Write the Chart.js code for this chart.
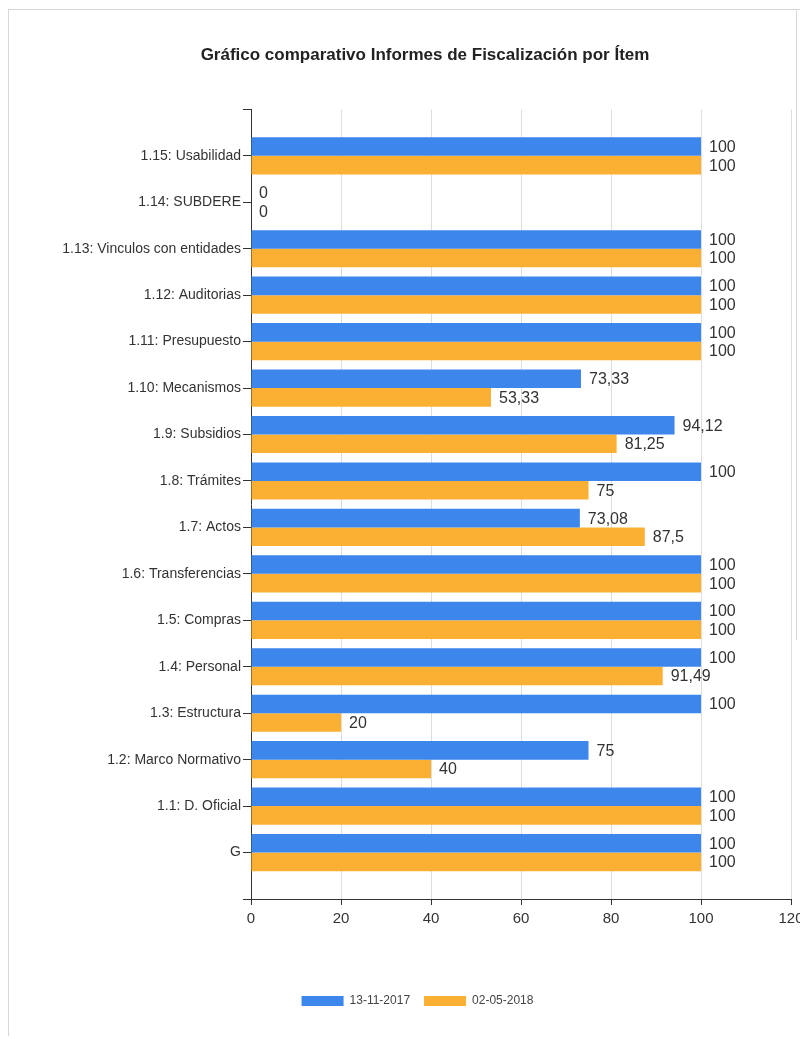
<!DOCTYPE html>
<html>
<head>
<meta charset="utf-8">
<script src="https://cdn.jsdelivr.net/npm/chart.js@4/dist/chart.umd.min.js"></script>
<style>
  html, body { margin: 0; padding: 0; background: #fff; overflow: hidden; width: 800px; height: 1039px; }
  #wrap { position: absolute; left: 0; top: 0; width: 840px; height: 1039px; }
  #frameA { position: absolute; left: 8px; top: 9px; width: 800px; height: 1026px; border-left: 1px solid #d8d8d8; border-top: 1px solid #d8d8d8; }
  #frameB { position: absolute; left: 796px; top: 9px; width: 0; height: 631px; border-left: 1px solid #d8d8d8; }
  canvas { position: absolute; left: 0; top: 0; }
</style>
</head>
<body>
<div id="frameA"></div>
<div id="frameB"></div>
<div id="wrap"><canvas id="c" width="840" height="1039"></canvas></div>
<script>
const titleText = 'Gráfico comparativo Informes de Fiscalización por Ítem';
const categories = [
  '1.15: Usabilidad',
  '1.14: SUBDERE',
  '1.13: Vinculos con entidades',
  '1.12: Auditorias',
  '1.11: Presupuesto',
  '1.10: Mecanismos',
  '1.9: Subsidios',
  '1.8: Trámites',
  '1.7: Actos',
  '1.6: Transferencias',
  '1.5: Compras',
  '1.4: Personal',
  '1.3: Estructura',
  '1.2: Marco Normativo',
  '1.1: D. Oficial',
  'G'
];
const seriesNames = ['13-11-2017', '02-05-2018'];
const values2017 = [100, 0, 100, 100, 100, 73.33, 94.12, 100, 73.08, 100, 100, 100, 100, 75, 100, 100];
const values2018 = [100, 0, 100, 100, 100, 53.33, 81.25, 75, 87.5, 100, 100, 91.49, 20, 40, 100, 100];
const xTicks = [0, 20, 40, 60, 80, 100, 120];

// blank slots at both ends give the axis its padding
const labels = [''].concat(categories, ['']);
const pad = arr => [null].concat(arr, [null]);

const FONT = '"Liberation Sans", Arial, sans-serif';

const valueLabels = {
  id: 'valueLabels',
  afterDatasetsDraw(chart) {
    const ctx = chart.ctx;
    ctx.save();
    ctx.font = '16px ' + FONT;
    ctx.fillStyle = '#333';
    ctx.textAlign = 'left';
    ctx.textBaseline = 'middle';
    chart.data.datasets.forEach((ds, di) => {
      const meta = chart.getDatasetMeta(di);
      meta.data.forEach((el, i) => {
        const v = ds.data[i];
        if (v === null || v === undefined) return;
        ctx.fillText(String(v).replace('.', ','), el.x + 8, el.y + 1);
      });
    });
    ctx.restore();
  }
};

const shiftBlocks = {
  id: 'shiftBlocks',
  afterLayout(chart) {
    if (chart.titleBlock) { chart.titleBlock.left = 50; chart.titleBlock.right = 800; }
    if (chart.legend) { chart.legend.left += 22; chart.legend.right += 22; }
  }
};

new Chart(document.getElementById('c'), {
  type: 'bar',
  data: {
    labels: labels,
    datasets: [
      { label: seriesNames[0], data: pad(values2017), backgroundColor: '#3d86ec', borderWidth: 0 },
      { label: seriesNames[1], data: pad(values2018), backgroundColor: '#fbb034', borderWidth: 0 }
    ]
  },
  options: {
    indexAxis: 'y',
    responsive: false,
    animation: false,
    devicePixelRatio: 1,
    categoryPercentage: 0.8,
    barPercentage: 1.0,
    layout: { padding: { left: 0, right: 49, top: 0, bottom: 22 } },
    plugins: {
      title: {
        display: true,
        text: titleText,
        color: '#222',
        font: { family: FONT, size: 17, weight: 'bold' },
        padding: { top: 45, bottom: 44 }
      },
      legend: {
        position: 'bottom',
        labels: {
          boxWidth: 42,
          boxHeight: 10,
          padding: 14,
          color: '#444',
          font: { family: FONT, size: 12 }
        }
      },
      tooltip: { enabled: false }
    },
    scales: {
      x: {
        type: 'linear',
        min: 0,
        max: 120,
        afterBuildTicks: s => { s.ticks = xTicks.map(v => ({ value: v })); },
        afterFit: s => { s.height = 82; },
        grid: { color: '#dddddd', tickColor: '#333', tickLength: 6, drawOnChartArea: true },
        border: { color: '#333', width: 1 },
        ticks: {
          color: '#333',
          padding: 5,
          font: { family: FONT, size: 15 }
        }
      },
      y: {
        type: 'category',
        offset: false,
        afterFit: s => { s.width = 251; },
        grid: { offset: false, drawOnChartArea: false, tickColor: '#333', tickLength: 8 },
        border: { color: '#333', width: 1 },
        ticks: {
          color: '#333',
          padding: 2,
          autoSkip: false,
          font: { family: FONT, size: 14 }
        }
      }
    }
  },
  plugins: [valueLabels, shiftBlocks]
});
</script>
</body>
</html>
